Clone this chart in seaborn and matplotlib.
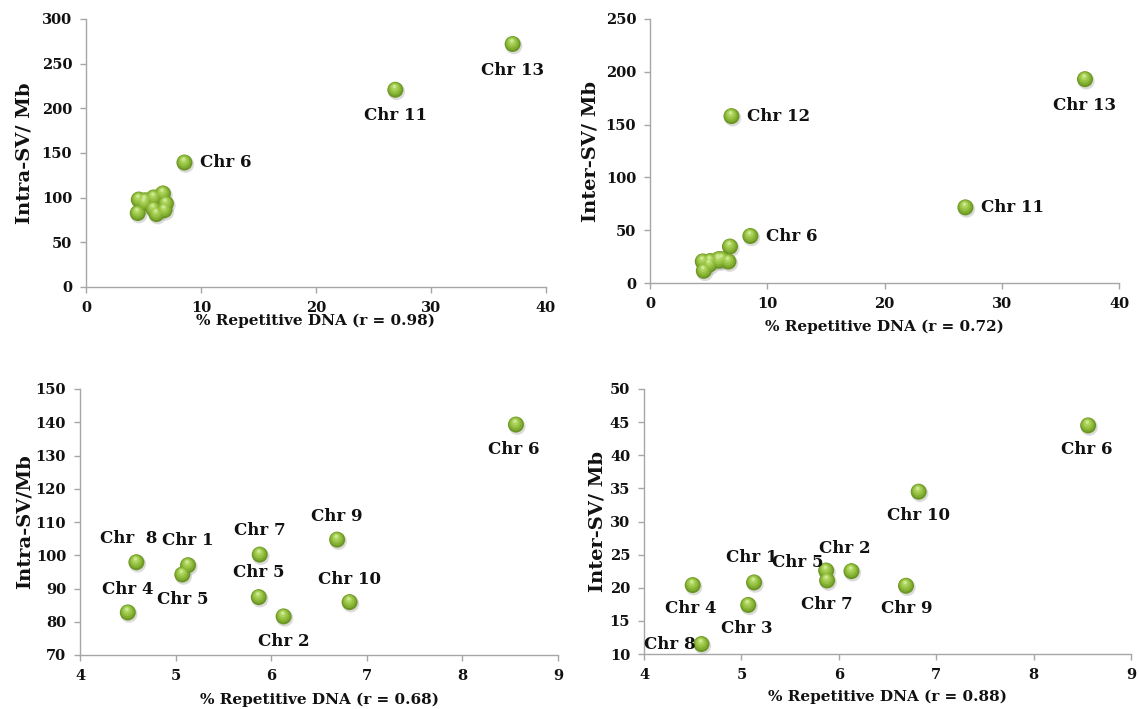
import numpy as np
import pandas as pd
import seaborn as sns
import matplotlib
matplotlib.use("Agg")
import matplotlib.pyplot as plt
from matplotlib.transforms import ScaledTranslation

# ---------------- data ----------------
chromosomes = ["Chr 1", "Chr 2", "Chr 3", "Chr 4", "Chr 5", "Chr 6", "Chr 7",
               "Chr 8", "Chr 9", "Chr 10", "Chr 11", "Chr 12", "Chr 13"]
pct_repetitive = [5.13, 6.13, 5.07, 4.50, 5.87, 8.56, 5.88, 4.59, 6.69, 6.82,
                  26.9, 6.95, 37.1]
intra_sv_per_mb = [97.0, 81.6, 94.2, 82.8, 87.4, 139.3, 100.2, 97.9, 104.7, 85.9,
                   220.8, 93.5, 272.0]
inter_sv_per_mb = [20.8, 22.5, 17.4, 20.4, 22.6, 44.5, 21.1, 11.5, 20.3, 34.5,
                   71.6, 158.0, 193.0]

# labels shown in each panel (text exactly as in the reference)
labels_top_intra = {"Chr 6": "Chr 6", "Chr 11": "Chr 11", "Chr 13": "Chr 13"}
labels_top_inter = {"Chr 12": "Chr 12", "Chr 13": "Chr 13", "Chr 11": "Chr 11", "Chr 6": "Chr 6"}
labels_bot_intra = {"Chr 1": "Chr 1", "Chr 2": "Chr 2", "Chr 3": "Chr 5", "Chr 4": "Chr 4",
                    "Chr 5": "Chr 5", "Chr 6": "Chr 6", "Chr 7": "Chr 7", "Chr 8": "Chr  8",
                    "Chr 9": "Chr 9", "Chr 10": "Chr 10"}
labels_bot_inter = {"Chr 1": "Chr 1", "Chr 2": "Chr 2", "Chr 3": "Chr 3", "Chr 4": "Chr 4",
                    "Chr 5": "Chr 5", "Chr 6": "Chr 6", "Chr 7": "Chr 7", "Chr 8": "Chr 8",
                    "Chr 9": "Chr 9", "Chr 10": "Chr 10"}

x_titles = ["% Repetitive DNA (r = 0.98)", "% Repetitive DNA (r = 0.72)",
            "% Repetitive DNA (r = 0.68)", "% Repetitive DNA (r = 0.88)"]
y_titles = ["Intra-SV/ Mb", "Inter-SV/ Mb", "Intra-SV/Mb", "Inter-SV/ Mb"]

df = pd.DataFrame({"chrom": chromosomes, "rep": pct_repetitive,
                   "intra": intra_sv_per_mb, "inter": inter_sv_per_mb})
df_low = df.iloc[:10]

# ---------------- style ----------------
sns.set_theme(style="ticks")
plt.rcParams["font.family"] = ["DejaVu Serif"]
plt.rcParams["font.weight"] = "bold"

W, H = 1139, 709
fig = plt.figure(figsize=(W / 100, H / 100), dpi=100)
fig.patch.set_facecolor("white")

def px_axes(x0, x1, y0, y1):
    return fig.add_axes([x0 / W, 1 - y1 / H, (x1 - x0) / W, (y1 - y0) / H])

axes = [px_axes(86, 546, 19, 287), px_axes(650, 1119, 19, 283),
        px_axes(80, 558, 389, 655), px_axes(644, 1131, 389, 654)]

PT = 0.72  # points per pixel at 100 dpi

def sphere_scatter(ax, data, ycol):
    # layered circles to mimic a shaded green ball
    layers = [  # (diameter px, colour, dx px, dy px, alpha)
        (17.0, "#9a9a9a", 1.2, -1.8, 0.35),
        (16.0, "#6c9624", 0.0, 0.0, 1.0),
        (13.5, "#82ae31", -0.3, 0.8, 1.0),
        (10.5, "#97c243", -0.6, 1.6, 1.0),
        (7.0, "#acd45d", -0.8, 2.4, 1.0),
        (3.5, "#cde891", -0.9, 3.2, 1.0),
    ]
    for d, col, dx, dy, a in layers:
        n0 = len(ax.collections)
        sns.scatterplot(data=data, x="rep", y=ycol, ax=ax, s=(d * PT) ** 2,
                        color=col, edgecolor="none", linewidth=0, alpha=a,
                        legend=False, zorder=3)
        coll = ax.collections[n0]
        coll.set_offset_transform(ax.transData +
                                  ScaledTranslation(dx / 100, dy / 100, fig.dpi_scale_trans))

def style_axis(ax, xlim, xticks, ylim, yticks, xlab, ylab, xlab_y, ylab_x):
    ax.set_xlim(*xlim)
    ax.set_ylim(*ylim)
    ax.set_xticks(xticks)
    ax.set_yticks(yticks)
    ax.set_xticklabels([f"{t:g}" for t in xticks], fontsize=10.5, fontweight="bold")
    ax.set_yticklabels([f"{t:g}" for t in yticks], fontsize=10.5, fontweight="bold")
    for s in ["top", "right"]:
        ax.spines[s].set_visible(False)
    for s in ["left", "bottom"]:
        ax.spines[s].set_color("#a6a6a6")
        ax.spines[s].set_linewidth(1.0)
    ax.tick_params(axis="both", direction="out", length=4, width=1.0, color="#a6a6a6",
                   pad=6, labelcolor="#111111")
    ax.set_xlabel(xlab, fontsize=11, fontweight="bold", color="#111111")
    ax.set_ylabel(ylab, fontsize=14, fontweight="bold", color="#111111")
    ax.xaxis.set_label_coords(0.5, xlab_y)
    ax.yaxis.set_label_coords(ylab_x, 0.5)
    ax.set_facecolor("white")

def annotate(ax, data, ycol, labels, offsets):
    for chrom, text in labels.items():
        row = data[data["chrom"] == chrom].iloc[0]
        dx, dy, ha, va = offsets.get(chrom, (0, -25, "center", "center"))
        ax.annotate(text, xy=(row["rep"], row[ycol]), xytext=(dx * PT, dy * PT),
                    textcoords="offset points", ha=ha, va=va, fontsize=12,
                    fontweight="bold", color="#111111", zorder=5)

# ---- top-left ----
ax = axes[0]
sphere_scatter(ax, df, "intra")
style_axis(ax, (0, 40), [0, 10, 20, 30, 40], (0, 300), list(range(0, 301, 50)),
           x_titles[0], y_titles[0], -0.1, -0.115)
annotate(ax, df, "intra", labels_top_intra,
         {"Chr 6": (16, 0, "left", "center"), "Chr 11": (0, -26, "center", "center"),
          "Chr 13": (0, -26, "center", "center")})

# ---- top-right ----
ax = axes[1]
sphere_scatter(ax, df, "inter")
style_axis(ax, (0, 40), [0, 10, 20, 30, 40], (0, 250), list(range(0, 251, 50)),
           x_titles[1], y_titles[1], -0.14, -0.107)
annotate(ax, df, "inter", labels_top_inter,
         {"Chr 12": (16, 0, "left", "center"), "Chr 11": (16, 0, "left", "center"),
          "Chr 6": (16, 0, "left", "center"), "Chr 13": (0, -26, "center", "center")})

# ---- bottom-left ----
ax = axes[2]
sphere_scatter(ax, df_low, "intra")
style_axis(ax, (4, 9), [4, 5, 6, 7, 8, 9], (70, 150), list(range(70, 151, 10)),
           x_titles[2], y_titles[2], -0.143, -0.096)
annotate(ax, df_low, "intra", labels_bot_intra,
         {"Chr 8": (-8, 24, "center", "center"), "Chr 1": (0, 25, "center", "center"),
          "Chr 3": (0, -25, "center", "center"), "Chr 4": (0, 23, "center", "center"),
          "Chr 7": (0, 24, "center", "center"), "Chr 5": (0, 25, "center", "center"),
          "Chr 2": (0, -25, "center", "center"), "Chr 9": (0, 23, "center", "center"),
          "Chr 10": (0, 23, "center", "center"), "Chr 6": (-2, -25, "center", "center")})

# ---- bottom-right ----
ax = axes[3]
sphere_scatter(ax, df_low, "inter")
style_axis(ax, (4, 9), [4, 5, 6, 7, 8, 9], (10, 50), list(range(10, 51, 5)),
           x_titles[3], y_titles[3], -0.136, -0.078)
annotate(ax, df_low, "inter", labels_bot_inter,
         {"Chr 6": (-1, -24, "center", "center"), "Chr 10": (0, -24, "center", "center"),
          "Chr 2": (-7, 23, "center", "center"), "Chr 5": (-3, 8, "right", "center"),
          "Chr 7": (0, -24, "center", "center"), "Chr 9": (1, -23, "center", "center"),
          "Chr 1": (-2, 25, "center", "center"), "Chr 3": (-1, -24, "center", "center"),
          "Chr 4": (-2, -23, "center", "center"), "Chr 8": (-6, 0, "right", "center")})

fig.savefig("out.png", dpi=100, facecolor="white")
